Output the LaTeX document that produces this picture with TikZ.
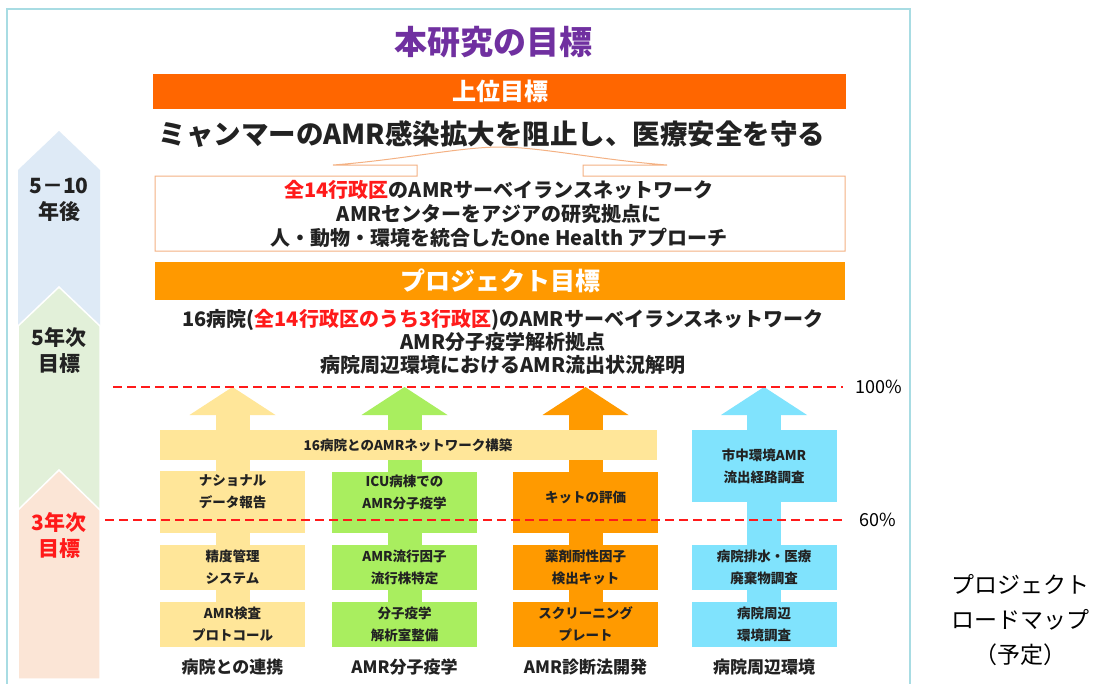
\documentclass[tikz,border=0pt]{standalone}
\usepackage{fontspec}
\setmainfont{Noto Sans CJK JP}
\definecolor{txt}{HTML}{222222}
\definecolor{frame}{HTML}{A8DCE3}
\definecolor{purp}{HTML}{7030A0}
\definecolor{topor}{HTML}{FF6600}
\definecolor{projor}{HTML}{FF9900}
\definecolor{callout}{HTML}{F4B183}
\definecolor{redd}{HTML}{FF1A1A}
\definecolor{lblue}{HTML}{DEEAF6}
\definecolor{lgreen}{HTML}{E2F0D9}
\definecolor{lpeach}{HTML}{FBE5D6}
\definecolor{cA}{HTML}{FFE699}
\definecolor{cB}{HTML}{A9EE5F}
\definecolor{cC}{HTML}{FF9A00}
\definecolor{cD}{HTML}{80E3FD}
\newcommand\fsz[2]{\fontsize{#1}{#2}\selectfont}
\newcommand\mycol[4]{%
  \fill[#2] (#1-43,415) -- (#1,387) -- (#1+43,415) -- cycle;
  \fill[#2] (#1-17,414) rectangle (#1+17,640);
  \fill[#2] (#1-72.5,#3) rectangle (#1+72.5,#4);
  \fill[#2] (#1-72.5,545) rectangle (#1+72.5,590);
  \fill[#2] (#1-72.5,602) rectangle (#1+72.5,647);
}
\begin{document}
\begin{tikzpicture}[x=1pt,y=-1pt,
  tx/.style={inner sep=0pt, align=center, text=txt, font=\bfseries},
  btx/.style={tx, font=\bfseries\fsz{13.5}{22}},
  lbl/.style={tx, font=\bfseries\fsz{17}{20}},
  side/.style={tx, font=\bfseries\fsz{21}{26}},
  pct/.style={inner sep=0pt, text=black, font=\fsz{18}{20}},
  redline/.style={draw=redd, line width=1.8pt, dash pattern=on 9pt off 5pt}]
\useasboundingbox (0,0) rectangle (1107,683);
\fill[white] (0,0) rectangle (1107,683);
% frame
\draw[frame, line width=1.2pt] (7,690) -- (7,9) -- (910,9) -- (910,690);
% left chevrons
\fill[lblue] (18,170) -- (59,131) -- (100,170) -- (100,335) -- (18,335) -- cycle;
\filldraw[fill=lgreen, draw=white, line width=1.5pt] (18,326) -- (59,287) -- (100,326) -- (100,520) -- (18,520) -- cycle;
\filldraw[fill=lpeach, draw=white, line width=1.5pt] (18,510) -- (59,470) -- (100,510) -- (100,679) -- (18,679) -- cycle;
\node[side] (s1) at (59,200) {5－10\\年後};
\node[side] (s2) at (59,350) {5年次\\目標};
\node[side, text=redd] (s3) at (59,535) {3年次\\目標};
% title
\node[tx, text=purp, font=\bfseries\fsz{33}{36}] (title) at (493,42) {本研究の目標};
% upper goal bar
\fill[topor] (153,74) rectangle (846,109);
\node[tx, text=white, font=\bfseries\fsz{24}{26}] (upper) at (500,91.5) {上位目標};
\node[tx, font=\bfseries\fsz{27.5}{30}] (goal) at (492,134) {ミャンマーのAMR感染拡大を阻止し、医療安全を守る};
% callout box
\draw[callout, line width=1pt] (417,176) -- (155,176) -- (155,251) -- (845,251) -- (845,176) -- (583,176) -- (583,165) -- (667,165)
  .. controls (600,160) and (540,147) .. (500,147) .. controls (460,147) and (400,160) .. (333,165) -- (417,165) -- cycle;
\node[tx, font=\bfseries\fsz{20}{24}] (vision) at (499,214) {{\color{redd}全14行政区}のAMRサーベイランスネットワーク\\AMRセンターをアジアの研究拠点に\\人・動物・環境を統合したOne Health アプローチ};
% project goal bar
\fill[projor] (155,262) rectangle (845,300);
\node[tx, text=white, font=\bfseries\fsz{25}{27}] (proj) at (500,281) {プロジェクト目標};
\node[tx, font=\bfseries\fsz{20}{23}] (projtxt) at (503,342) {16病院({\color{redd}全14行政区のうち3行政区})のAMRサーベイランスネットワーク\\AMR分子疫学解析拠点\\病院周辺環境におけるAMR流出状況解明};
% columns
\mycol{232.5}{cA}{471}{533}
\mycol{404.5}{cB}{472}{533}
\mycol{585.5}{cC}{472}{533}
\fill[cA] (160,430) rectangle (657,460);
\mycol{764}{cD}{430}{502}
% box texts
\node[btx] (bar) at (408,445) {16病院とのAMRネットワーク構築};
\node[btx] (a1) at (232.5,492) {ナショナル\\データ報告};
\node[btx] (a2) at (232.5,567.5) {精度管理\\システム};
\node[btx] (a3) at (232.5,624.5) {AMR検査\\プロトコール};
\node[btx] (b1) at (404.5,492) {ICU病棟での\\AMR分子疫学};
\node[btx] (b2) at (404.5,567.5) {AMR流行因子\\流行株特定};
\node[btx] (b3) at (404.5,624.5) {分子疫学\\解析室整備};
\node[btx] (c1) at (585.5,497) {キットの評価};
\node[btx] (c2) at (585.5,567.5) {薬剤耐性因子\\検出キット};
\node[btx] (c3) at (585.5,624.5) {スクリーニング\\プレート};
\node[btx] (d1) at (764,466) {市中環境AMR\\流出経路調査};
\node[btx] (d2) at (764,567.5) {病院排水・医療\\廃棄物調査};
\node[btx] (d3) at (764,624.5) {病院周辺\\環境調査};
% column labels
\node[lbl] (la) at (232.5,667) {病院との連携};
\node[lbl] (lb) at (404.5,667) {AMR分子疫学};
\node[lbl] (lc) at (585.5,667) {AMR診断法開発};
\node[lbl] (ld) at (764,667) {病院周辺環境};
% dashed lines
\coordinate (h1) at (113,387);
\node[pct] (p100) at (879,387) {100\%};
\draw[redline] (h1) -- (p100.west -| 843,0);
\coordinate (h2) at (105,520);
\node[pct] (p60) at (878,520) {60\%};
\draw[redline] (h2) -- (p60.west -| 845,0);
% right note
\node[inner sep=0pt, align=center, font=\fsz{23}{35}, text=black] (road) at (1020,620) {プロジェクト\\ロードマップ\\（予定）};
\end{tikzpicture}
\end{document}
